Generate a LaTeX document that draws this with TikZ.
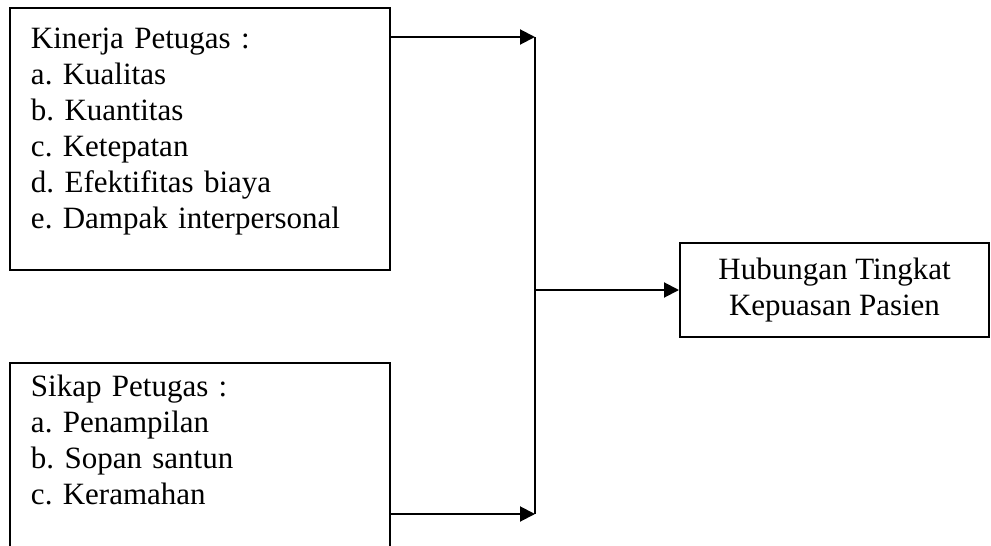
\documentclass[tikz,border=0pt]{standalone}
\usepackage{fontspec}
\setmainfont{Liberation Serif}
\usetikzlibrary{arrows.meta,positioning,calc}
\frenchspacing
\tikzset{
  kbbox/.style={draw, rectangle, line width=1pt, inner xsep=10.5pt, inner ysep=0pt,
    align=left, text width=169pt, anchor=north west, font=\fontsize{15.5}{18}\selectfont},
  kbhasil/.style={draw, rectangle, line width=1pt, align=center, minimum width=154.5pt,
    minimum height=47pt, font=\fontsize{15.5}{18}\selectfont},
  kbarrow/.style={-{Triangle[length=7.5pt, width=7.5pt]}, line width=1pt},
  kbline/.style={line width=1pt},
}

\begin{document}
\begin{tikzpicture}[x=0.5pt, y=-0.5pt]
  \useasboundingbox (0,0) rectangle (991,546);

  \node[kbbox, text height=20pt, text depth=111pt] (kinerja) at (9,7)
    {Kinerja Petugas :\\a. Kualitas\\b. Kuantitas\\c. Ketepatan\\d. Efektifitas biaya\\e. Dampak interpersonal};
  \node[kbbox, text height=16.5pt, text depth=120pt] (sikap) at (9,362)
    {Sikap Petugas :\\a. Penampilan\\b. Sopan santun\\c. Keramahan};

  \node[kbhasil] (hasil) at (834.5,290)
    {Hubungan Tingkat\\Kepuasan Pasien};

  \coordinate (atas) at (535,37);
  \coordinate (bawah) at (535,514);

  \draw[kbarrow] (kinerja.east |- atas) -- (atas);
  \draw[kbarrow] (sikap.east |- bawah) -- (bawah);
  \draw[kbline] (atas) -- (bawah);
  \draw[kbarrow] (atas |- hasil.west) -- (hasil.west);
\end{tikzpicture}
\end{document}
